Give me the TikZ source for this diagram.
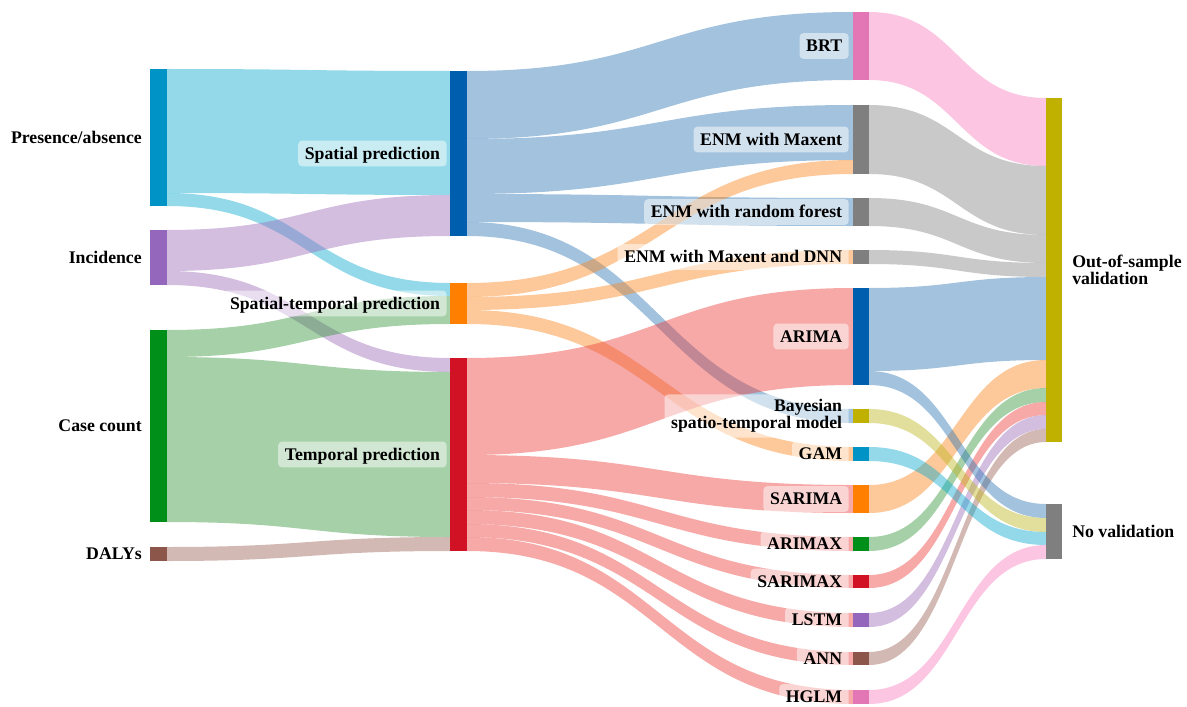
\documentclass[tikz,border=0pt]{standalone}
\usepackage{fontspec}
\setmainfont{Liberation Serif}
\usetikzlibrary{fit}
\definecolor{cPA}{HTML}{0093C6}
\definecolor{cInc}{HTML}{9467BD}
\definecolor{cGreen}{HTML}{00901A}
\definecolor{cBrown}{HTML}{8C564B}
\definecolor{cBlue}{HTML}{005EAE}
\definecolor{cOrange}{HTML}{FF7F00}
\definecolor{cRed}{HTML}{D11124}
\definecolor{cPink}{HTML}{E377B5}
\definecolor{cGray}{HTML}{7F7F7F}
\definecolor{cOlive}{HTML}{C0B000}
\definecolor{fcyan}{HTML}{0FABCE}
\definecolor{flav}{HTML}{9D6FBA}
\definecolor{fgreen}{HTML}{39973E}
\definecolor{fbrown}{HTML}{9B6356}
\definecolor{fblue}{HTML}{3078B6}
\definecolor{forange}{HTML}{FB871E}
\definecolor{fred}{HTML}{EB403B}
\definecolor{fpink}{HTML}{F880C1}
\definecolor{fgray}{HTML}{878787}
\definecolor{folive}{HTML}{BFB623}
\newcommand{\flw}[7]{%
  \pgfmathsetmacro{\fmid}{(#2+#5)/2}%
  \fill[fill=#1,fill opacity=0.45] (#2,#3) .. controls (\fmid,#3) and (\fmid,#6) .. (#5,#6)
    -- (#5,#7) .. controls (\fmid,#7) and (\fmid,#4) .. (#2,#4) -- cycle;}
\newcommand{\sbar}[6]{%
  \node[barsty,fill=#2,fit={(#3,#5)(#4,#6)}] (#1) {};}
\tikzset{
  barsty/.style={inner sep=0pt,outer sep=0pt,draw=none},
  labtxt/.style={font=\bfseries\fontsize{13.3}{12.5}\selectfont,text=black},
  lab/.style={labtxt,inner sep=0pt,text height=8.8pt,text depth=0pt},
  labbox/.style={labtxt,fill=white,fill opacity=0.5,text opacity=1,rounded corners=3pt,
    inner xsep=5pt,inner ysep=5.3pt,text height=8.8pt,text depth=0pt},
  labbox2/.style={labtxt,fill=white,fill opacity=0.5,text opacity=1,rounded corners=3pt,
    inner xsep=5pt,inner ysep=4pt,align=right}
}
\begin{document}
\begin{tikzpicture}[x=0.75pt,y=-0.75pt]
\useasboundingbox (0,0) rectangle (1187,706);
% ---- flows column 1 -> 2
\flw{fcyan}{167}{69}{193}{450}{71}{195}
\flw{fcyan}{167}{193}{206}{450}{283}{296}
\flw{flav}{167}{230}{271}{450}{195}{236}
\flw{flav}{167}{271}{285}{450}{358}{372}
\flw{fgreen}{167}{330}{357}{450}{296}{324}
\flw{fgreen}{167}{357}{522}{450}{372}{537}
\flw{fbrown}{167}{547}{561}{450}{537}{551}
% ---- flows column 2 -> 3
\flw{fblue}{467}{71}{139}{853}{12}{80}
\flw{fblue}{467}{139}{194}{853}{105}{160}
\flw{fblue}{467}{194}{222}{853}{198}{226}
\flw{fblue}{467}{222}{236}{853}{409}{423}
\flw{forange}{467}{283}{297}{853}{160}{174}
\flw{forange}{467}{297}{310}{853}{250}{264}
\flw{forange}{467}{310}{324}{853}{447}{461}
\flw{fred}{467}{358}{455}{853}{288}{385}
\flw{fred}{467}{455}{483}{853}{485}{513}
\flw{fred}{467}{483}{497}{853}{537}{551}
\flw{fred}{467}{497}{510}{853}{575}{588}
\flw{fred}{467}{510}{524}{853}{613}{627}
\flw{fred}{467}{524}{537}{853}{652}{665}
\flw{fred}{467}{537}{551}{853}{690}{704}
% ---- flows column 3 -> 4
\flw{fpink}{869}{12}{80}{1046}{98}{166}
\flw{fgray}{869}{105}{174}{1046}{166}{235}
\flw{fgray}{869}{198}{226}{1046}{235}{263}
\flw{fgray}{869}{250}{264}{1046}{263}{277}
\flw{fblue}{869}{288}{371}{1046}{277}{360}
\flw{forange}{869}{485}{513}{1046}{360}{388}
\flw{fgreen}{869}{537}{551}{1046}{388}{402}
\flw{fred}{869}{575}{588}{1046}{402}{415}
\flw{flav}{869}{613}{627}{1046}{415}{429}
\flw{fbrown}{869}{652}{665}{1046}{429}{442}
\flw{fblue}{869}{371}{385}{1046}{504}{518}
\flw{folive}{869}{409}{423}{1046}{518}{532}
\flw{fcyan}{869}{447}{461}{1046}{532}{545}
\flw{fpink}{869}{690}{704}{1046}{545}{559}
% ---- bars
\sbar{pa}{cPA}{150}{167}{69}{206}
\sbar{inc}{cInc}{150}{167}{230}{285}
\sbar{cc}{cGreen}{150}{167}{330}{522}
\sbar{daly}{cBrown}{150}{167}{547}{561}
\sbar{sp}{cBlue}{450}{467}{71}{236}
\sbar{st}{cOrange}{450}{467}{283}{324}
\sbar{tp}{cRed}{450}{467}{358}{551}
\sbar{brt}{cPink}{853}{869}{12}{80}
\sbar{max}{cGray}{853}{869}{105}{174}
\sbar{rf}{cGray}{853}{869}{198}{226}
\sbar{dnn}{cGray}{853}{869}{250}{264}
\sbar{arima}{cBlue}{853}{869}{288}{385}
\sbar{bayes}{cOlive}{853}{869}{409}{423}
\sbar{gam}{cPA}{853}{869}{447}{461}
\sbar{sarima}{cOrange}{853}{869}{485}{513}
\sbar{arimax}{cGreen}{853}{869}{537}{551}
\sbar{sarimax}{cRed}{853}{869}{575}{588}
\sbar{lstm}{cInc}{853}{869}{613}{627}
\sbar{ann}{cBrown}{853}{869}{652}{665}
\sbar{hglm}{cPink}{853}{869}{690}{704}
\sbar{oos}{cOlive}{1046}{1062}{98}{442}
\sbar{nov}{cGray}{1046}{1062}{504}{559}
% ---- labels
\node[lab,anchor=east] (lpa) at ([xshift=-6pt]pa.west) {Presence/absence};
\node[lab,anchor=east] (linc) at ([xshift=-6pt]inc.west) {Incidence};
\node[lab,anchor=east] (lcc) at ([xshift=-6pt]cc.west) {Case count};
\node[lab,anchor=east] (ldaly) at ([xshift=-6pt]daly.west) {DALYs};
\node[labbox,anchor=east] (lsp) at ([xshift=-2.3pt]sp.west) {Spatial prediction};
\node[labbox,anchor=east] (lst) at ([xshift=-2.3pt]st.west) {Spatial-temporal prediction};
\node[labbox,anchor=east] (ltp) at ([xshift=-2.3pt]tp.west) {Temporal prediction};
\node[labbox,anchor=east] (lbrt) at ([xshift=-3pt]brt.west) {BRT};
\node[labbox,anchor=east] (lmax) at ([xshift=-3pt]max.west) {ENM with Maxent};
\node[labbox,anchor=east] (lrf) at ([xshift=-3pt]rf.west) {ENM with random forest};
\node[labbox,anchor=east] (ldnn) at ([xshift=-3pt]dnn.west) {ENM with Maxent and DNN};
\node[labbox,anchor=east] (larima) at ([xshift=-3pt]arima.west) {ARIMA};
\node[labbox2,anchor=east] (lbayes) at ([xshift=-3pt]bayes.west) {Bayesian\hspace{0.3em}\\spatio-temporal model};
\node[labbox,anchor=east] (lgam) at ([xshift=-3pt]gam.west) {GAM};
\node[labbox,anchor=east] (lsarima) at ([xshift=-3pt]sarima.west) {SARIMA};
\node[labbox,anchor=east] (larimax) at ([xshift=-3pt]arimax.west) {ARIMAX};
\node[labbox,anchor=east] (lsarimax) at ([xshift=-3pt]sarimax.west) {SARIMAX};
\node[labbox,anchor=east] (llstm) at ([xshift=-3pt]lstm.west) {LSTM};
\node[labbox,anchor=east] (lann) at ([xshift=-3pt]ann.west) {ANN};
\node[labbox,anchor=east] (lhglm) at ([xshift=-3pt]hglm.west) {HGLM};
\node[labtxt,inner sep=0pt,align=left,anchor=west] (loos) at ([xshift=7.5pt]oos.east) {Out-of-sample\\validation};
\node[lab,anchor=west] (lnov) at ([xshift=7.5pt]nov.east) {No validation};
\end{tikzpicture}
\end{document}
